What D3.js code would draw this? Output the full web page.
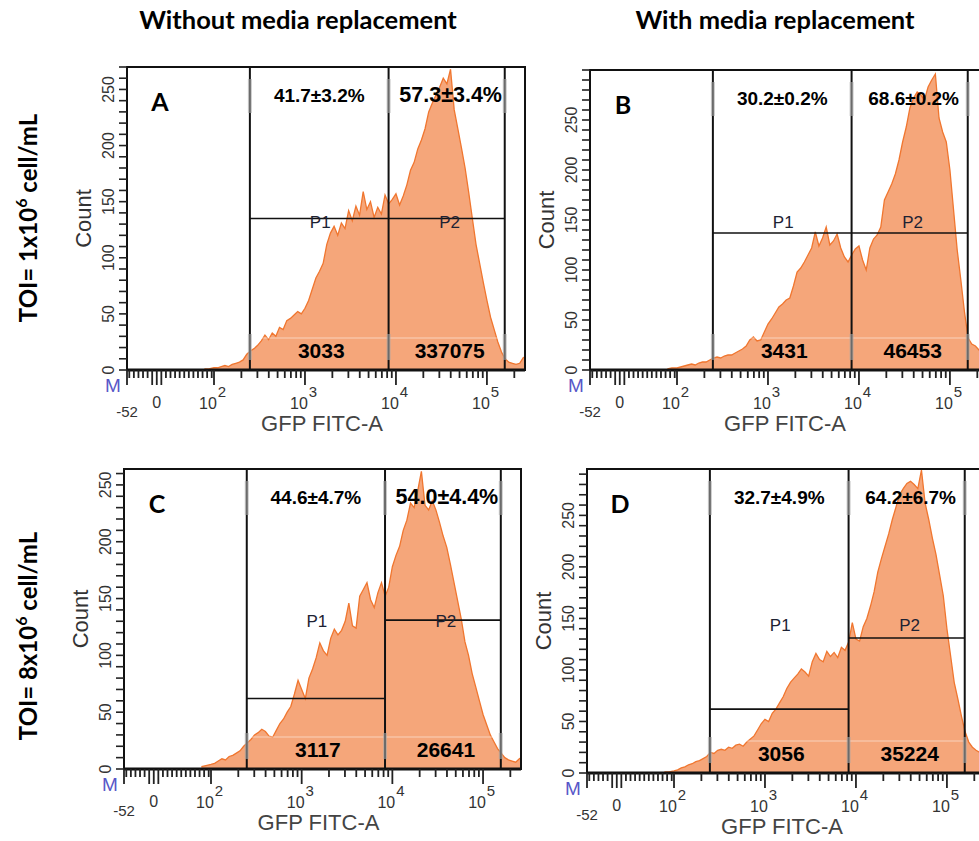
<!DOCTYPE html>
<html>
<head>
<meta charset="utf-8">
<script src="https://cdn.jsdelivr.net/npm/d3@7"></script>
<style>
  body { margin: 0; background: #fff; }
  svg { display: block; }
  text { font-family: "Liberation Sans", Arial, sans-serif; }
</style>
</head>
<body>
<svg id="fig" width="979" height="841"></svg>
<script>
// ---------- data ----------
const panelIds = ["A", "B", "C", "D"];
const columnTitles = ["Without media replacement", "With media replacement"];
const rowTitles = [
  { pre: "TOI= 1x10", exp: "6", post: " cell/mL" },
  { pre: "TOI= 8x10", exp: "6", post: " cell/mL" }
];

// histogram bins: log10(GFP FITC-A) bin edges start at 1.90, width 0.04 decades
const binStartLog = 1.90;
const binStepLog = 0.04;

const countsA = [
  1, 1, 2, 2, 3, 4, 3, 5, 6, 7,
  9, 14, 17, 19, 22, 26, 31, 27, 33, 30,
  38, 36, 44, 46, 49, 52, 50, 55, 62, 72,
  82, 88, 95, 112, 122, 128, 120, 131, 126, 142,
  133, 146, 138, 159, 143, 150, 136, 145, 139, 156,
  148, 152, 157, 147, 155, 165, 178, 185, 197, 205,
  215, 230, 238, 245, 252, 260, 255, 268, 232, 215,
  198, 180, 158, 135, 112, 95, 78, 62, 47, 36,
  25, 16, 10, 7, 6, 5, 6, 11, 12
];
const countsB = [
  1, 2, 2, 3, 4, 5, 6, 5, 7, 8,
  8, 10, 12, 13, 12, 14, 15, 15, 17, 19,
  21, 24, 30, 33, 29, 30, 38, 46, 51, 57,
  63, 66, 70, 72, 84, 98, 102, 108, 115, 122,
  138, 124, 132, 143, 125, 129, 136, 122, 113, 108,
  115, 121, 124, 110, 100, 122, 131, 135, 143, 170,
  178, 186, 196, 210, 228, 243, 262, 272, 278, 275,
  270, 283, 290, 296, 252, 238, 228, 200, 160, 120,
  90, 58, 32, 26, 24, 20, 16, 12, 10
];
const countsC = [
  2, 3, 4, 5, 7, 9, 8, 11, 12, 14,
  16, 20, 23, 26, 30, 32, 35, 33, 29, 28,
  34, 40, 44, 50, 55, 66, 78, 70, 62, 80,
  88, 98, 111, 104, 100, 115, 123, 118, 122, 130,
  146, 126, 124, 152, 158, 164, 149, 142, 155, 164,
  152, 160, 178, 188, 196, 210, 219, 234, 230, 245,
  262, 232, 228, 236, 228, 217, 205, 195, 180, 164,
  148, 132, 112, 100, 84, 72, 60, 48, 39, 30,
  24, 18, 14, 10, 8, 7, 6, 9, 11
];
const countsD = [
  1, 1, 2, 3, 5, 6, 8, 9, 11, 12,
  14, 16, 20, 19, 22, 23, 22, 25, 24, 27,
  28, 26, 30, 33, 36, 42, 48, 52, 50, 58,
  62, 68, 74, 82, 88, 92, 96, 101, 98, 94,
  108, 116, 110, 108, 118, 113, 117, 112, 122, 119,
  127, 146, 130, 128, 142, 150, 162, 176, 195, 208,
  220, 232, 246, 258, 270, 276, 281, 283, 280, 276,
  294, 262, 246, 228, 212, 192, 172, 140, 114, 88,
  72, 55, 40, 30, 25, 22, 20, 16, 14
];
const histograms = [countsA, countsB, countsC, countsD];

const countAxisMax = [270, 300, 264, 295];
const gateEdges = [248, 8300, 157000];          // P1 = [edge0, edge1], P2 = [edge1, edge2]
const gateLevelP1 = [135, 137, 62, 62];
const gateLevelP2 = [135, 137, 131, 131];
const percentP1 = ["41.7±3.2%", "30.2±0.2%", "44.6±4.7%", "32.7±4.9%"];
const percentP2 = ["57.3±3.4%", "68.6±0.2%", "54.0±4.4%", "64.2±6.7%"];
const eventsP1 = ["3033", "3431", "3117", "3056"];
const eventsP2 = ["337075", "46453", "26641", "35224"];
const countTickLabels = [0, 50, 100, 150, 200, 250];
const decadeExponents = [2, 3, 4, 5];
const axisMin = -52, linearTop = 100, axisMax = 262144;

// ---------- layout ----------
const layout = [
  { left: 127, top: 67,  width: 398, height: 303 },
  { left: 590, top: 70,  width: 398, height: 300 },
  { left: 124, top: 469, width: 397, height: 300 },
  { left: 587, top: 469, width: 398, height: 304 }
];
const linearWidth = 87;
const percentSizeP2 = [21.5, 19, 21.5, 19];
const fillColor = "#f5a67a";
const lineColor = "#f0762f";

const svg = d3.select("#fig");

// column headers
const headerX = [298, 775];
columnTitles.forEach((t, i) => {
  svg.append("text")
    .attr("x", headerX[i]).attr("y", 29)
    .attr("text-anchor", "middle")
    .style("font-family", "Lato, 'Open Sans', sans-serif")
    .style("font-weight", "bold").style("font-size", "25.5px")
    .text(t);
});

// row headers (rotated)
const rowY = [218, 636];
rowTitles.forEach((r, i) => {
  const t = svg.append("text")
    .attr("transform", `translate(37,${rowY[i]}) rotate(-90)`)
    .attr("text-anchor", "middle")
    .style("font-family", "Lato, 'Open Sans', sans-serif")
    .style("font-weight", "bold").style("font-size", "24px");
  t.append("tspan").text(r.pre);
  t.append("tspan").attr("dy", -10).style("font-size", "16px").text(r.exp);
  t.append("tspan").attr("dy", 10).text(r.post);
});

layout.forEach((L, i) => {
  const g = svg.append("g").attr("transform", `translate(${L.left},${L.top})`);

  // biexponential-style display: linear near zero, logarithmic above 10^2
  const xLin = d3.scaleLinear().domain([axisMin, linearTop]).range([0, linearWidth]);
  const xLog = d3.scaleLog().domain([linearTop, axisMax]).range([linearWidth, L.width]);
  const x = v => (v <= linearTop ? xLin(v) : xLog(v));
  const y = d3.scaleLinear().domain([0, countAxisMax[i]]).range([L.height, 0]);

  const clipId = "plotclip" + i;
  g.append("clipPath").attr("id", clipId)
    .append("rect").attr("width", L.width).attr("height", L.height);

  // histogram
  const pts = histograms[i].map((c, k) => ({
    v: Math.pow(10, binStartLog + (k + 0.5) * binStepLog), c
  }));
  const hg = g.append("g").attr("clip-path", `url(#${clipId})`);
  hg.append("path").datum(pts)
    .attr("d", d3.area().x(d => x(d.v)).y0(y(0)).y1(d => y(d.c)))
    .attr("fill", fillColor);
  hg.append("path").datum(pts)
    .attr("d", d3.line().x(d => x(d.v)).y(d => y(d.c)))
    .attr("fill", "none").attr("stroke", lineColor).attr("stroke-width", 1.3);

  // faint box edges of the event-count labels
  hg.append("line")
    .attr("x1", x(gateEdges[0])).attr("x2", x(gateEdges[2]))
    .attr("y1", L.height - 32).attr("y2", L.height - 32)
    .attr("stroke", "#fff").attr("stroke-opacity", 0.5).attr("stroke-width", 1);

  // gates
  const gx = gateEdges.map(x);
  gx.forEach(px => {
    g.append("line").attr("x1", px).attr("x2", px).attr("y1", 0).attr("y2", L.height)
      .attr("stroke", "#111").attr("stroke-width", 2);
    [[12, 46], [L.height - 36, L.height - 10]].forEach(([a, b]) => {
      g.append("rect").attr("x", px - 2).attr("width", 4).attr("y", a).attr("height", b - a)
        .attr("fill", "#a8a8a8").attr("opacity", 0.6);
    });
  });
  g.append("line").attr("x1", gx[0]).attr("x2", gx[1])
    .attr("y1", y(gateLevelP1[i])).attr("y2", y(gateLevelP1[i]))
    .attr("stroke", "#111").attr("stroke-width", 1.6);
  g.append("line").attr("x1", gx[1]).attr("x2", gx[2])
    .attr("y1", y(gateLevelP2[i])).attr("y2", y(gateLevelP2[i]))
    .attr("stroke", "#111").attr("stroke-width", 1.6);

  // frame
  g.append("rect").attr("width", L.width).attr("height", L.height)
    .attr("fill", "none").attr("stroke", "#111").attr("stroke-width", 2);
  g.append("line").attr("x1", 0).attr("x2", L.width).attr("y1", L.height).attr("y2", L.height)
    .attr("stroke", "#111").attr("stroke-width", 3);

  // y ticks
  d3.range(0, countAxisMax[i] + 1, 10).forEach(c => {
    g.append("line").attr("x1", -8).attr("x2", 0).attr("y1", y(c)).attr("y2", y(c))
      .attr("stroke", "#222").attr("stroke-width", 1.6);
  });
  countTickLabels.forEach(c => {
    g.append("text")
      .attr("transform", `translate(-13,${y(c)}) rotate(-90)`)
      .attr("text-anchor", "middle")
      .style("font-size", "16px").attr("fill", "#333")
      .text(c);
  });
  g.append("text")
    .attr("transform", `translate(-36,${L.height / 2}) rotate(-90)`)
    .attr("text-anchor", "middle")
    .style("font-size", "22px").attr("fill", "#333")
    .text("Count");

  // x ticks
  const xt = [];
  d3.range(-48, linearTop, 8).forEach(v => xt.push({ v, long: v === 0 || Math.abs(v) === 8 }));
  xt.push({ v: axisMin, long: true });
  decadeExponents.forEach(e => {
    d3.range(1, 10).forEach(m => {
      const v = m * Math.pow(10, e);
      if (v <= axisMax) xt.push({ v, long: m === 1 });
    });
  });
  xt.forEach(t => {
    g.append("line").attr("x1", x(t.v)).attr("x2", x(t.v))
      .attr("y1", L.height).attr("y2", L.height + (t.long ? 15 : 8))
      .attr("stroke", "#222").attr("stroke-width", 1.8);
  });
  decadeExponents.forEach(e => {
    const px = x(Math.pow(10, e));
    g.append("text").attr("x", px - 6).attr("y", L.height + 39)
      .attr("text-anchor", "middle").style("font-size", "16px").attr("fill", "#333")
      .text("10");
    g.append("text").attr("x", px + 8).attr("y", L.height + 27)
      .attr("text-anchor", "middle").style("font-size", "15px").attr("fill", "#333")
      .text(e);
  });
  g.append("text").attr("x", x(0)).attr("y", L.height + 38)
    .attr("text-anchor", "middle").style("font-size", "16px").attr("fill", "#333").text("0");
  g.append("text").attr("x", x(axisMin)).attr("y", L.height + 47)
    .attr("text-anchor", "middle").style("font-size", "15px").attr("fill", "#333").text(axisMin);
  g.append("text").attr("x", -14).attr("y", L.height + 22)
    .attr("text-anchor", "middle").style("font-size", "19px").attr("fill", "#5656c8").text("M");
  g.append("text").attr("x", L.width / 2 - 4).attr("y", L.height + 61)
    .attr("text-anchor", "middle").style("font-size", "22px").attr("fill", "#444")
    .text("GFP FITC-A");

  // panel letter
  g.append("text").attr("x", 33).attr("y", 44).attr("text-anchor", "middle")
    .style("font-family", "Lato, 'Open Sans', sans-serif")
    .style("font-weight", "bold").style("font-size", "25px").text(panelIds[i]);

  // gate annotations
  const mid1 = (gx[0] + gx[1]) / 2, mid2 = (gx[1] + gx[2]) / 2;
  g.append("text").attr("x", mid1).attr("y", 35).attr("text-anchor", "middle")
    .style("font-weight", "bold").style("font-size", "19px").text(percentP1[i]);
  g.append("text").attr("x", mid2 + 4).attr("y", 35).attr("text-anchor", "middle")
    .style("font-weight", "bold").style("font-size", percentSizeP2[i] + "px").text(percentP2[i]);
  g.append("text").attr("x", mid1 + 2).attr("y", L.height - 12).attr("text-anchor", "middle")
    .style("font-weight", "bold").style("font-size", "21px").text(eventsP1[i]);
  g.append("text").attr("x", mid2 + 3).attr("y", L.height - 12).attr("text-anchor", "middle")
    .style("font-weight", "bold").style("font-size", "21px").text(eventsP2[i]);
  g.append("text").attr("x", mid1 + 1).attr("y", L.height - 142).attr("text-anchor", "middle")
    .style("font-size", "17px").attr("fill", "#1d2233").text("P1");
  g.append("text").attr("x", mid2 + 3).attr("y", L.height - 142).attr("text-anchor", "middle")
    .style("font-size", "17px").attr("fill", "#1d2233").text("P2");
});
</script>
</body>
</html>
